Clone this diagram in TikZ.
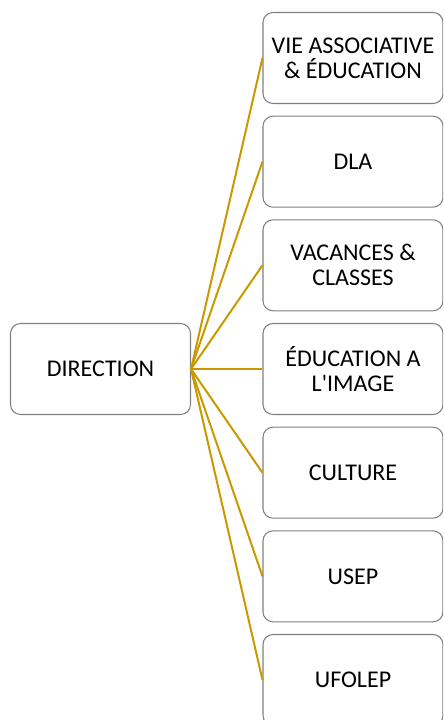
\documentclass[tikz,border=0pt]{standalone}
\usepackage{fontspec}
\setmainfont{Carlito}[Ligatures=TeXOff]
\definecolor{linegold}{RGB}{200,154,0}
\definecolor{boxgray}{RGB}{128,128,128}
\begin{document}
\begin{tikzpicture}[x=0.75pt,y=-0.75pt,
  unitbox/.style={draw=boxgray,line width=0.8pt,rounded corners=7.5pt,fill=white,
    minimum width=135pt,minimum height=68.25pt,align=center,inner sep=0pt,
    font=\fontsize{18}{18.75}\selectfont},
  conn/.style={draw=linegold,line width=1.5pt}]
\useasboundingbox (0,0) rectangle (443,720);
\clip (0,0) rectangle (443,720);
\node[unitbox] (dir) at (100.5,369) {DIRECTION};
\node[unitbox] (b1) at (353,58) {VIE ASSOCIATIVE\\\& ÉDUCATION};
\node[unitbox] (b2) at (353,161.7) {DLA};
\node[unitbox] (b3) at (353,265.3) {VACANCES \&\\CLASSES};
\node[unitbox] (b4) at (353,369) {ÉDUCATION A\\L'IMAGE};
\node[unitbox] (b5) at (353,472.7) {CULTURE};
\node[unitbox] (b6) at (353,576.3) {USEP};
\node[unitbox] (b7) at (353,680) {UFOLEP};
\foreach \i in {1,...,7}{
  \draw[conn] (dir.east) -- (b\i.west);
}
\end{tikzpicture}
\end{document}
